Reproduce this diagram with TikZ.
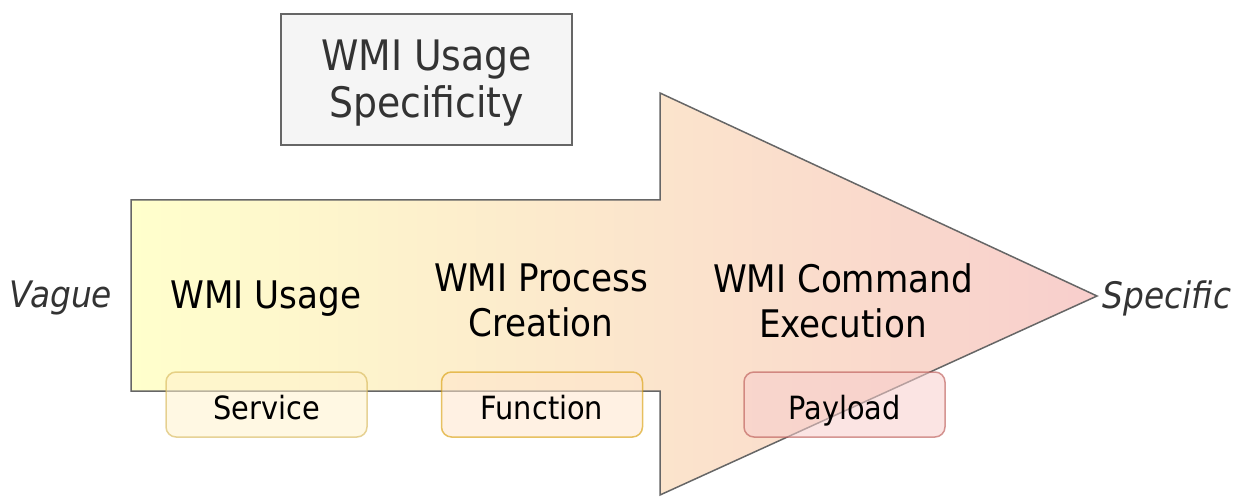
\documentclass[tikz,border=0pt]{standalone}
\usepackage{fontspec}
\setmainfont{DejaVu Sans Condensed}
\definecolor{gradL}{HTML}{FFFFCC}
\definecolor{gradR}{HTML}{F8CECC}
\definecolor{edgegray}{HTML}{666666}
\definecolor{titlefill}{HTML}{F5F5F5}
\definecolor{titletext}{HTML}{333333}
\definecolor{yfill}{HTML}{FFF2CC}
\definecolor{ydraw}{HTML}{D6B656}
\definecolor{ofill}{HTML}{FFE6CC}
\definecolor{odraw}{HTML}{D79B00}
\definecolor{rfill}{HTML}{F8CECC}
\definecolor{rdraw}{HTML}{B85450}
\tikzset{
  stage/.style={align=center, font=\fontsize{38}{45}\selectfont, text=black},
  endlabel/.style={font=\fontsize{36.5}{40}\selectfont\itshape, text=titletext},
  tag/.style={rounded corners=10pt, minimum width=201pt, minimum height=65pt,
    inner sep=0pt, text height=29pt, text depth=0pt,
    font=\fontsize{32}{36}\selectfont, line width=1.5pt,
    fill opacity=0.55, draw opacity=0.6, text opacity=1},
  titlebox/.style={draw=edgegray, fill=titlefill, line width=1.5pt,
    minimum width=291pt, minimum height=131pt, inner sep=0pt}
}
\begin{document}
\begin{tikzpicture}[x=1pt,y=-1pt]
\useasboundingbox (0,0) rectangle (1234,497);
% big arrow
\path[draw=edgegray, line width=1.5pt, left color=gradL, right color=gradR]
  (131,200) -- (660,200) -- (660,93) -- (1097,296) -- (660,495) -- (660,391) -- (131,391) -- cycle;
\node[titlebox] (title) at (426.5,79.5) {};
\node[align=center, font=\fontsize{42}{47}\selectfont, text=titletext] (titletxt) at (title.center) [yshift=-3.5pt] {WMI Usage\\Specificity};
\node[endlabel] (vague) at (61,298) {Vague};
\node[endlabel] (specific) at (1167,298) {Specific};
\node[stage] (usage) at (266,299) {WMI Usage};
\node[stage] (process) at (541,300.5) {WMI Process\\Creation};
\node[stage] (command) at (843,300.5) {WMI Command\\Execution};
\node[tag, draw=ydraw, fill=yfill] (service) at (266.5,404.5) {Service};
\node[tag, draw=odraw, fill=ofill] (function) at (542,404.5) {Function};
\node[tag, draw=rdraw, fill=rfill] (payload) at (844.5,404.5) {Payload};
\end{tikzpicture}
\end{document}
